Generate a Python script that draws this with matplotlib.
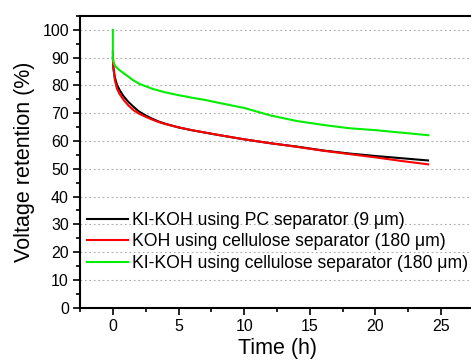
import matplotlib.pyplot as plt
from matplotlib.ticker import MultipleLocator

plt.rcParams['font.family'] = ['Liberation Sans', 'DejaVu Sans']

# 读图得到的数据
t_black = [0, 0.05, 0.15, 0.3, 0.5, 0.8, 1.2, 1.6, 2, 2.5, 3, 3.5, 4, 5, 6, 8, 10, 12, 14, 16, 18, 20, 22, 24]
v_black = [90, 86, 83, 80.5, 78.5, 76.2, 74, 72.2, 70.6, 69.2, 68.0, 67.0, 66.2, 64.9, 63.9, 62.2, 60.6, 59.2, 58.0, 56.6, 55.5, 54.6, 53.8, 53.0]
t_red = [0, 0.05, 0.15, 0.3, 0.5, 0.8, 1.2, 1.6, 2, 2.5, 3, 3.5, 4, 5, 6, 8, 10, 12, 14, 16, 18, 20, 22, 24]
v_red = [92, 86, 82, 79, 77, 74.9, 72.7, 71, 69.8, 68.7, 67.7, 66.8, 66.1, 64.9, 63.9, 62.2, 60.6, 59.2, 57.9, 56.5, 55.3, 54.1, 52.8, 51.6]
t_green = [0, 0, 0.03, 0.1, 0.25, 0.5, 1, 1.5, 2, 3, 4, 5, 6, 7, 8, 10, 12, 14, 16, 18, 20, 22, 24]
v_green = [100, 90, 88.6, 87.6, 86.6, 85.5, 83.8, 82.0, 80.6, 78.8, 77.5, 76.5, 75.6, 74.8, 73.8, 71.9, 69.2, 67.2, 65.8, 64.6, 63.9, 63.0, 62.1]

labels = ['KI-KOH using PC separator (9 \u03bcm)',
          'KOH using cellulose separator (180 \u03bcm)',
          'KI-KOH using cellulose separator (180 \u03bcm)']

fig = plt.figure(figsize=(4.71, 3.61), dpi=100)
ax = fig.add_axes([80 / 471, (361 - 307.7) / 361, (474 - 80) / 471, (307.7 - 16) / 361])

ax.plot(t_black, v_black, color='black', lw=1.5, label=labels[0])
ax.plot(t_red, v_red, color='red', lw=1.5, label=labels[1])
ax.plot(t_green, v_green, color='#00ee00', lw=1.5, label=labels[2])

ax.set_xlim(-2.5, 27.5)
ax.set_ylim(0, 105)
ax.xaxis.set_major_locator(MultipleLocator(5))
ax.xaxis.set_minor_locator(MultipleLocator(2.5))
ax.yaxis.set_major_locator(MultipleLocator(10))
ax.yaxis.set_minor_locator(MultipleLocator(5))
ax.tick_params(which='major', direction='out', length=5, width=1.2, labelsize=11.5, pad=3)
ax.tick_params(which='minor', direction='out', length=3, width=1.2)
for s in ax.spines.values():
    s.set_linewidth(1.5)

ax.yaxis.grid(True, linestyle=(0, (1.5, 2.5)), color='#aaaaaa', lw=0.8)
ax.set_axisbelow(True)

ax.set_xlabel('Time (h)', fontsize=15.5, labelpad=3)
ax.set_ylabel('Voltage retention (%)', fontsize=15.5, labelpad=5)

ax.legend(loc='upper left', bbox_to_anchor=(0.0, 0.352), frameon=False, fontsize=12.7,
          handlelength=2.3, handletextpad=0.25, labelspacing=0.25, borderaxespad=0)

plt.savefig('out.png', dpi=100)
